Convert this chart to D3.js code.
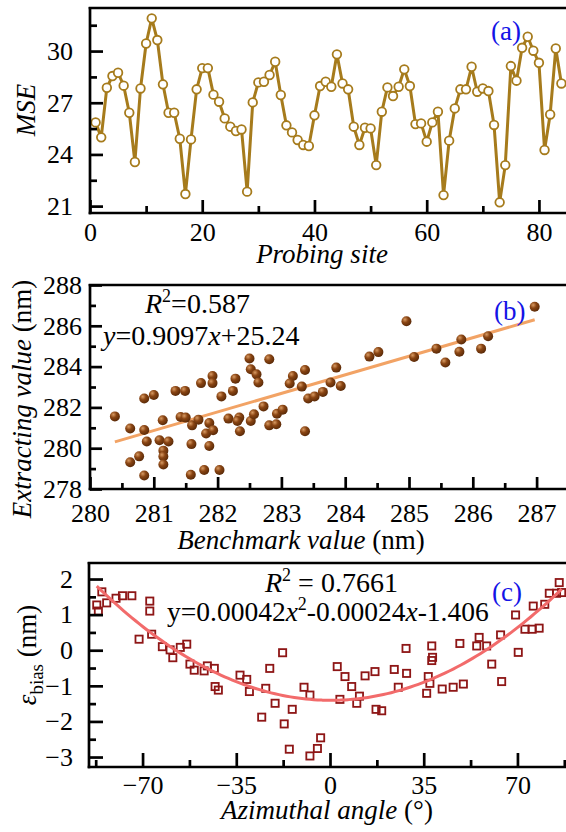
<!DOCTYPE html>
<html>
<head>
<meta charset="utf-8">
<script src="https://cdnjs.cloudflare.com/ajax/libs/d3/7.8.5/d3.min.js"></script>
<style>
  body { margin: 0; background: #fff; }
  svg { display: block; font-family: "Liberation Serif", "Times New Roman", serif; }
</style>
</head>
<body>
<svg width="566" height="832"></svg>
<script>
/* (a) MSE at each probing site, sites 1..84 in order */
var mseValues = [
  25.86, 24.99, 27.87, 28.55, 28.74, 27.99, 26.42, 23.56, 27.83, 30.44,
  31.90, 30.64, 28.07, 26.42, 26.42, 24.91, 21.70, 24.87, 27.78, 29.01,
  29.01, 27.47, 27.06, 26.09, 25.61, 25.36, 25.45, 21.84, 27.02, 28.18,
  28.22, 28.61, 29.38, 27.45, 25.69, 25.28, 24.84, 24.55, 24.49, 26.27,
  27.97, 28.22, 27.93, 29.81, 28.12, 27.78, 25.61, 24.55, 25.55, 25.51,
  23.38, 26.48, 27.89, 27.39, 27.93, 28.94, 27.97, 25.76, 25.80, 24.74,
  25.86, 26.48, 21.64, 24.80, 26.67, 27.78, 27.78, 29.09, 27.64, 27.83,
  27.68, 25.71, 21.22, 23.38, 29.13, 28.28, 30.19, 30.83, 30.02, 29.32,
  24.26, 26.32, 30.15, 28.12
];
var mseXTicks = [0, 20, 40, 60, 80];
var mseYTicks = [21, 24, 27, 30];

/* (b) benchmark value vs extracting value (nm) */
var benchX = [
  284.96, 286.97, 285.08, 285.43, 285.57, 285.82, 285.79, 286.13, 286.24, 284.38,
  284.52, 282.50, 282.81, 282.52, 282.61, 282.64, 281.92, 281.92, 281.74, 282.28,
  283.18, 283.37, 283.13, 283.32, 283.86, 283.77, 283.93, 281.34, 281.49, 281.00,
  280.85, 282.06, 282.24, 283.65, 283.42, 283.52,
  280.39, 280.63, 280.63, 280.77, 280.85, 280.89, 280.85, 281.14, 281.09, 281.23,
  281.15, 281.15, 281.15, 281.42, 281.50, 281.60, 281.70, 281.59, 281.58, 281.87,
  281.82, 281.93, 281.87, 281.79, 282.03, 282.17, 282.34, 282.31, 282.35, 282.52,
  282.57, 282.72, 282.81, 282.92, 282.93, 283.02, 283.37
];
var extractY = [
  286.22, 286.93, 284.47, 284.88, 284.20, 285.33, 284.73, 284.88, 285.49, 284.49,
  284.71, 284.40, 284.36, 283.87, 283.62, 283.22, 283.54, 283.19, 283.19, 283.41,
  283.54, 283.83, 283.17, 283.02, 283.95, 283.22, 283.05, 282.81, 282.81, 282.61,
  282.44, 282.54, 282.81, 282.76, 282.44, 282.54,
  281.56, 280.97, 279.31, 279.60, 280.89, 280.33, 278.66, 281.37, 280.39, 280.33,
  279.88, 279.59, 279.20, 281.53, 281.50, 281.12, 281.40, 280.20, 278.70, 281.23,
  280.72, 280.88, 280.11, 278.93, 278.93, 281.45, 281.50, 281.33, 280.83, 281.33,
  281.66, 282.05, 281.12, 281.17, 281.69, 281.89, 280.83
];
var fitB = [0.9097, 25.24];   // slope, intercept
var benchXTicks = [280, 281, 282, 283, 284, 285, 286, 287];
var benchYTicks = [278, 280, 282, 284, 286, 288];

/* (c) azimuthal angle vs bias error */
var angleX = [
  -87.1, -86.5, -85.2, -83.4, -79.9, -77.5, -74.0, -67.3, -67.3, -71.3,
  -66.6, -62.6, -59.7, -58.7, -55.9, -53.5, -52.3, -50.7, -47.0, -45.8,
  -43.2, -42.9, -33.6, -31.1, -24.0, -22.5, -17.7,
  -41.7, -30.1, -25.5, -20.5, -17.1, -14.1, -15.2,
  -9.7, -7.5, -7.5, -4.7, -3.5, 3.7, 8.1, 11.0, 10.0, 17.2,
  19.3, 25.5, 36.1, 37.3, 41.9, 46.0, 49.8, 64.1,
  2.7, 5.6, 13.1, 16.8, 24.0, 28.6, 28.4, 36.7, 38.0, 38.3,
  38.0, 48.5, 54.8, 55.7, 58.5, 60.4, 63.7, 70.3, 69.3, 72.8,
  75.5, 78.1, 75.9, 80.2, 81.9, 84.6, 86.5, 85.6
];
var biasY = [
  1.27, 1.10, 1.64, 1.33, 1.46, 1.53, 1.53, 1.38, 1.10, 0.31,
  0.45, 0.10, 0.01, -0.21, 0.08, 0.17, -0.39, -0.56, -0.58, -0.44,
  -0.51, -1.02, -0.70, -0.82, -1.07, -0.51, -0.07,
  -1.12, -1.16, -1.88, -1.49, -2.07, -1.66, -2.78,
  -1.04, -1.26, -2.97, -2.76, -2.46, -1.38, -1.02, -1.29, -1.49, -1.66,
  -1.70, -1.04, -1.21, -0.93, -1.09, -1.04, -0.95, -0.88,
  -0.46, -0.74, -0.72, -0.60, -0.54, -0.65, 0.05, -0.74, 0.12, -0.20,
  -0.29, 0.19, 0.12, 0.36, 0.12, -0.39, 0.43, -0.06, 0.99, 0.59,
  0.59, 0.62, 1.24, 1.29, 1.60, 1.60, 1.62, 1.90
];
var fitC = [0.00042, -0.00024, -1.406];   // a, b, c of a*x^2 + b*x + c
var angleXTicks = [-70, -35, 0, 35, 70];
var biasYTicks = [-3, -2, -1, 0, 1, 2];

var svg = d3.select("svg");
var AXIS_W = 2.7;

/* draws the open frame (left, bottom, top) and the inward ticks */
function frame(p) {
  var g = svg.append("g");
  var x0 = p.x.range()[0], x1 = p.x.range()[1];
  var yb = p.y.range()[0], yt = p.y.range()[1];

  var xMaj = g.append("g").attr("transform", "translate(0," + yb + ")")
    .call(d3.axisBottom(p.x).tickValues(p.xTicks).tickSize(-p.major).tickPadding(p.xPad).tickFormat(d3.format("d")));
  var xMin = g.append("g").attr("transform", "translate(0," + yb + ")")
    .call(d3.axisBottom(p.x).tickValues(p.xMinor).tickSize(-p.minor).tickFormat(""));
  var yMaj = g.append("g").attr("transform", "translate(" + x0 + ",0)")
    .call(d3.axisLeft(p.y).tickValues(p.yTicks).tickSize(-p.major).tickPadding(p.yPad).tickFormat(d3.format("d")));
  var yMin = g.append("g").attr("transform", "translate(" + x0 + ",0)")
    .call(d3.axisLeft(p.y).tickValues(p.yMinor).tickSize(-p.minor).tickFormat(""));

  [xMaj, xMin, yMaj, yMin].forEach(function(a) {
    a.attr("font-family", null).attr("font-size", null);
    a.select(".domain").remove();
    a.selectAll(".tick line").attr("stroke", "#000").attr("stroke-width", AXIS_W);
    a.selectAll("text").attr("fill", "#000").style("font-size", "26px");
  });

  g.append("line").attr("x1", x0).attr("x2", x0).attr("y1", yt - 1).attr("y2", yb + 1.3)
    .attr("stroke", "#000").attr("stroke-width", AXIS_W);
  g.append("line").attr("x1", x0 - 1.3).attr("x2", x1).attr("y1", yb).attr("y2", yb)
    .attr("stroke", "#000").attr("stroke-width", AXIS_W);
  g.append("line").attr("x1", x0 - 1.3).attr("x2", x1).attr("y1", yt).attr("y2", yt)
    .attr("stroke", "#000").attr("stroke-width", AXIS_W);
}

function panelTag(x, y, t) {
  svg.append("text").attr("x", x).attr("y", y).attr("fill", "#1414e6")
    .style("font-size", "27px").text(t);
}

/* ---------- (a) ---------- */
var xa = d3.scaleLinear().domain([0, 85]).range([90, 567]);
var ya = d3.scaleLinear().domain([20.6, 32.5]).range([213, 8]);

panelTag(491, 40, "(a)");

var lineA = d3.line()
  .x(function(d, i) { return xa(i + 1); })
  .y(function(d) { return ya(d); });

svg.append("path").datum(mseValues)
  .attr("fill", "none").attr("stroke", "#a67b1c").attr("stroke-width", 3)
  .attr("stroke-linejoin", "round").attr("d", lineA);

svg.append("g").selectAll("circle").data(mseValues).join("circle")
  .attr("cx", function(d, i) { return xa(i + 1); })
  .attr("cy", function(d) { return ya(d); })
  .attr("r", 4.3).attr("fill", "#fff").attr("stroke", "#a67b1c").attr("stroke-width", 1.8);

frame({ x: xa, y: ya, xTicks: mseXTicks, xMinor: [10, 30, 50, 70],
  yTicks: mseYTicks, yMinor: [22.5, 25.5, 28.5, 31.5], major: 13, minor: 7, xPad: 10, yPad: 17 });

svg.append("text").attr("x", 322).attr("y", 263).attr("text-anchor", "middle")
  .style("font-size", "27px").style("font-style", "italic").text("Probing site");
svg.append("text").attr("transform", "translate(35,110) rotate(-90)").attr("text-anchor", "middle")
  .style("font-size", "27px").style("font-style", "italic").text("MSE");

/* ---------- (b) ---------- */
var xb = d3.scaleLinear().domain([280, 287.5]).range([90, 568.5]);
var yb = d3.scaleLinear().domain([278, 288]).range([489, 285]);

var defs = svg.append("defs");
var grad = defs.append("radialGradient").attr("id", "ball").attr("cx", "35%").attr("cy", "32%").attr("r", "70%");
grad.append("stop").attr("offset", "0%").attr("stop-color", "#d89a62");
grad.append("stop").attr("offset", "45%").attr("stop-color", "#8a4513");
grad.append("stop").attr("offset", "100%").attr("stop-color", "#5a2a08");

var bPts = benchX.map(function(v, i) { return { x: v, y: extractY[i] }; });
var bExt = d3.extent(benchX);

svg.append("path").datum(bExt)
  .attr("fill", "none").attr("stroke", "#f2a365").attr("stroke-width", 3)
  .attr("d", d3.line().x(function(d) { return xb(d); }).y(function(d) { return yb(fitB[0] * d + fitB[1]); }));

svg.append("g").selectAll("circle").data(bPts).join("circle")
  .attr("cx", function(d) { return xb(d.x); })
  .attr("cy", function(d) { return yb(d.y); })
  .attr("r", 5).attr("fill", "url(#ball)");

frame({ x: xb, y: yb, xTicks: benchXTicks, xMinor: [280.5, 281.5, 282.5, 283.5, 284.5, 285.5, 286.5, 287.5],
  yTicks: benchYTicks, yMinor: [279, 281, 283, 285, 287], major: 12, minor: 6, xPad: 15, yPad: 8 });

var r2b = svg.append("text").attr("x", 145).attr("y", 313).style("font-size", "28px");
r2b.append("tspan").style("font-style", "italic").text("R");
r2b.append("tspan").attr("dy", -11).style("font-size", "18px").text("2");
r2b.append("tspan").attr("dy", 11).text("=0.587");

var eqb = svg.append("text").attr("x", 103).attr("y", 345).style("font-size", "28px");
eqb.append("tspan").style("font-style", "italic").text("y");
eqb.append("tspan").text("=0.9097");
eqb.append("tspan").style("font-style", "italic").text("x");
eqb.append("tspan").text("+25.24");

panelTag(494, 320, "(b)");

svg.append("text").attr("x", 301).attr("y", 549).attr("text-anchor", "middle")
  .style("font-size", "27px")
  .call(function(t) {
    t.append("tspan").style("font-style", "italic").text("Benchmark value ");
    t.append("tspan").text("(nm)");
  });
svg.append("text").attr("transform", "translate(31,399) rotate(-90)").attr("text-anchor", "middle")
  .style("font-size", "27px")
  .call(function(t) {
    t.append("tspan").style("font-style", "italic").text("Extracting value ");
    t.append("tspan").text("(nm)");
  });

/* ---------- (c) ---------- */
var xc = d3.scaleLinear().domain([-90, 90]).range([89, 571]);
var yc = d3.scaleLinear().domain([-3.28, 2.45]).range([767, 563]);

var cPts = angleX.map(function(v, i) { return { x: v, y: biasY[i] }; });
var cExt = d3.extent(angleX);
var curveX = d3.range(cExt[0], cExt[1] + 0.01, (cExt[1] - cExt[0]) / 120);

var r2c = svg.append("text").attr("x", 265).attr("y", 592).style("font-size", "28px");
r2c.append("tspan").style("font-style", "italic").text("R");
r2c.append("tspan").attr("dy", -11).style("font-size", "18px").text("2");
r2c.append("tspan").attr("dy", 11).text(" = 0.7661");

var eqc = svg.append("text").attr("x", 167).attr("y", 621).style("font-size", "27.5px");
eqc.append("tspan").text("y=0.00042");
eqc.append("tspan").style("font-style", "italic").text("x");
eqc.append("tspan").attr("dy", -11).style("font-size", "18px").text("2");
eqc.append("tspan").attr("dy", 11).text("-0.00024");
eqc.append("tspan").style("font-style", "italic").text("x");
eqc.append("tspan").text("-1.406");

panelTag(492, 601, "(c)");

svg.append("g").selectAll("rect").data(cPts).join("rect")
  .attr("x", function(d) { return xc(d.x) - 3.6; })
  .attr("y", function(d) { return yc(d.y) - 3.6; })
  .attr("width", 7.2).attr("height", 7.2)
  .attr("fill", "none").attr("stroke", "#8e1616").attr("stroke-width", 1.8);

svg.append("path").datum(curveX)
  .attr("fill", "none").attr("stroke", "#f26b6b").attr("stroke-width", 3)
  .attr("d", d3.line().curve(d3.curveMonotoneX)
    .x(function(d) { return xc(d); })
    .y(function(d) { return yc(fitC[0] * d * d + fitC[1] * d + fitC[2]); }));

frame({ x: xc, y: yc, xTicks: angleXTicks, xMinor: [-87.5, -52.5, -17.5, 17.5, 52.5, 87.5],
  yTicks: biasYTicks, yMinor: [-2.5, -1.5, -0.5, 0.5, 1.5], major: 14, minor: 7, xPad: 9, yPad: 16 });

svg.append("text").attr("x", 327).attr("y", 819).attr("text-anchor", "middle")
  .style("font-size", "27px")
  .call(function(t) {
    t.append("tspan").style("font-style", "italic").text("Azimuthal angle ");
    t.append("tspan").text("(°)");
  });
svg.append("text").attr("transform", "translate(36,655) rotate(-90)").attr("text-anchor", "middle")
  .style("font-size", "27px")
  .call(function(t) {
    t.append("tspan").style("font-style", "italic").text("ε");
    t.append("tspan").attr("dy", 7).style("font-size", "19px").text("bias");
    t.append("tspan").attr("dy", -7).text(" (nm)");
  });
</script>
</body>
</html>
